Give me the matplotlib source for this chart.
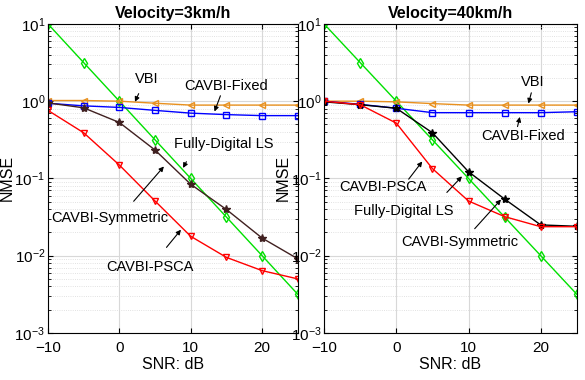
import matplotlib as mpl
mpl.use('Agg')
import matplotlib.pyplot as plt
from matplotlib.ticker import LogLocator, NullFormatter

plt.rcParams['font.family'] = ['Liberation Sans', 'DejaVu Sans']
plt.rcParams['mathtext.fontset'] = 'custom'
plt.rcParams['mathtext.rm'] = 'Liberation Sans'

snr = [-10, -5, 0, 5, 10, 15, 20, 25]

# Velocity = 3 km/h
ls_3 = [10, 3.16, 1.0, 0.316, 0.1, 0.0316, 0.01, 0.00316]
vbi_3 = [1.02, 1.02, 1.0, 0.94, 0.89, 0.89, 0.89, 0.89]
fixed_3 = [0.94, 0.87, 0.83, 0.76, 0.70, 0.67, 0.65, 0.65]
sym_3 = [0.95, 0.82, 0.53, 0.233, 0.084, 0.0396, 0.0169, 0.0091]
psca_3 = [0.76, 0.39, 0.149, 0.051, 0.0178, 0.0095, 0.0064, 0.005]

# Velocity = 40 km/h
ls_40 = [10, 3.16, 1.0, 0.316, 0.1, 0.0316, 0.01, 0.00316]
vbi_40 = [1.0, 1.0, 0.98, 0.93, 0.89, 0.89, 0.89, 0.89]
fixed_40 = [1.0, 0.91, 0.81, 0.71, 0.71, 0.71, 0.71, 0.73]
sym_40 = [0.98, 0.9, 0.81, 0.39, 0.122, 0.054, 0.025, 0.024]
psca_40 = [1.0, 0.9, 0.52, 0.134, 0.051, 0.032, 0.0237, 0.0237]

c_orange = '#e8901e'
c_blue = '#0000ff'
c_red = '#ff0000'
c_green = '#00e000'

fig = plt.figure(figsize=(5.85, 3.8), dpi=100)
ax1 = fig.add_axes([0.082, 0.124, 0.427, 0.813])
ax2 = fig.add_axes([0.554, 0.124, 0.432, 0.813])

panels = [
    (ax1, 'Velocity=3km/h', ls_3, vbi_3, fixed_3, sym_3, psca_3, '#402020'),
    (ax2, 'Velocity=40km/h', ls_40, vbi_40, fixed_40, sym_40, psca_40, '#000000'),
]

for ax, title, ls, vbi, fixed, sym, psca, c_sym in panels:
    ax.plot(snr, ls, color=c_green, marker='d', mfc='none', ms=5, lw=1)
    ax.plot(snr, vbi, color=c_orange, marker='<', mfc='none', ms=5, lw=1)
    ax.plot(snr, fixed, color=c_blue, marker='s', mfc='none', ms=4.5, lw=1)
    ax.plot(snr, sym, color=c_sym, marker='*', ms=6, lw=1)
    ax.plot(snr, psca, color=c_red, marker='v', mfc='none', ms=5, lw=1)
    ax.set_yscale('log')
    ax.set_xlim(-10, 25)
    ax.set_ylim(1e-3, 10)
    ax.set_xticks([-10, 0, 10, 20])
    ax.yaxis.set_major_locator(LogLocator(base=10, numticks=10))
    ax.yaxis.set_minor_locator(LogLocator(base=10, subs=range(2, 10), numticks=10))
    ax.yaxis.set_minor_formatter(NullFormatter())
    ax.grid(True, which='major', color='#d8d8d8', lw=0.8)
    ax.grid(True, which='minor', axis='y', color='#d8d8d8', lw=0.6, ls=':')
    ax.set_axisbelow(True)
    ax.tick_params(which='both', direction='in', top=True, right=True, labelsize=11)
    ax.tick_params(axis='x', pad=6)
    ax.tick_params(axis='y', pad=2)
    ax.set_xlabel('SNR: dB', fontsize=11.5, labelpad=1)
    ax.set_ylabel('NMSE', fontsize=11.5, labelpad=0)
    ax.set_title(title, fontsize=11.5, fontweight='bold', pad=4)

arrow = dict(arrowstyle='-|>', color='black', lw=0.8, mutation_scale=7)

# labels: (text, text pos, arrow tail, arrow tip)
notes_3 = [
    ('VBI', (3.85, 1.93), (2.87, 1.35), (2.03, 0.91)),
    ('CAVBI-Fixed', (14.9, 1.57), (14.3, 1.27), (13.2, 0.68)),
    ('Fully-Digital LS', (14.6, 0.277), (9.58, 0.177), (8.74, 0.127)),
    ('CAVBI-Symmetric', (-1.33, 0.031), (1.75, 0.0475), (6.5, 0.152)),
    ('CAVBI-PSCA', (4.27, 0.0072), (6.36, 0.012), (8.88, 0.0231)),
]
notes_40 = [
    ('VBI', (18.9, 1.76), (18.8, 1.39), (18.2, 0.86)),
    ('CAVBI-Fixed', (17.5, 0.351), (16.7, 0.433), (17.2, 0.678)),
    ('CAVBI-PSCA', (-1.84, 0.0764), (1.48, 0.0915), (3.83, 0.177)),
    ('Fully-Digital LS', (1.07, 0.0373), (6.74, 0.062), (9.36, 0.113)),
    ('CAVBI-Symmetric', (8.81, 0.0152), (10.6, 0.021), (14.76, 0.0567)),
]

for ax, notes in [(ax1, notes_3), (ax2, notes_40)]:
    for txt, pos, tail, tip in notes:
        ax.text(pos[0], pos[1], txt, fontsize=10.5, ha='center', va='center')
        ax.annotate('', xy=tip, xytext=tail, arrowprops=arrow)

fig.savefig('out.png', dpi=100)
